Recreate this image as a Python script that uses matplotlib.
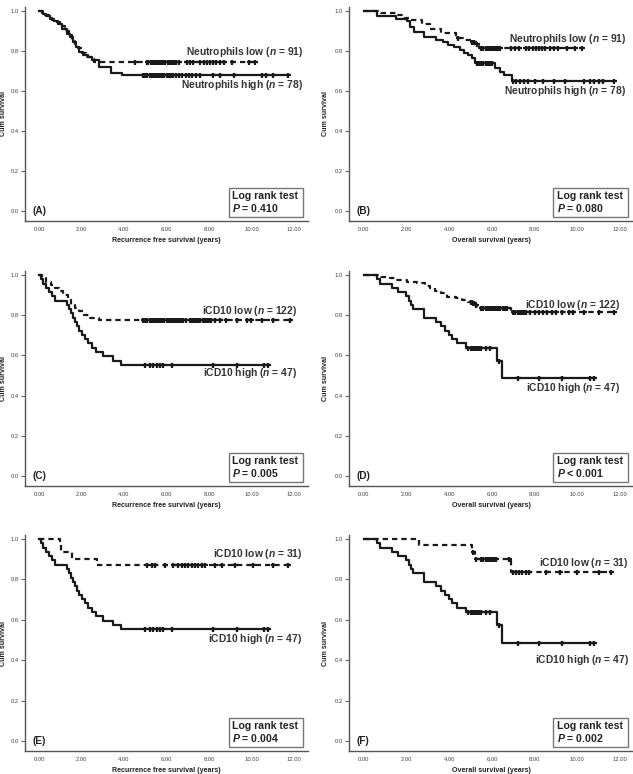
import numpy as np
import matplotlib
matplotlib.use("Agg")
import matplotlib.pyplot as plt
from matplotlib.patches import Rectangle

plt.rcParams['font.family'] = ['Liberation Sans', 'DejaVu Sans']
plt.rcParams['mathtext.fontset'] = 'custom'
plt.rcParams['mathtext.it'] = 'Liberation Sans:bold:italic'
plt.rcParams['mathtext.rm'] = 'Liberation Sans:bold'

# ---------------- data ----------------
# Panel A: RFS, neutrophils
A_low_t = [0, 0.15, 0.3, 0.45, 0.6, 0.8, 1.0, 1.2, 1.4, 1.55, 1.7, 1.85, 2.0, 2.2, 2.45, 2.6]
A_low_s = [1.0, 0.989, 0.978, 0.967, 0.956, 0.945, 0.923, 0.901, 0.879, 0.857, 0.835, 0.813, 0.791, 0.769, 0.758, 0.747]
A_low_c = [4.52, 5.07, 5.15, 5.25, 5.35, 5.45, 5.55, 5.65, 5.75, 5.85, 5.95, 6.05, 6.15, 6.25, 6.35, 6.45, 6.6,
           6.95, 7.1, 7.25, 7.6, 7.75, 7.9, 8.05, 8.2, 8.35, 8.5, 8.7, 9.1, 9.9, 10.16]
A_high_t = [0, 0.2, 0.35, 0.5, 0.7, 0.9, 1.1, 1.3, 1.45, 1.6, 1.75, 1.9, 2.05, 2.3, 2.5, 2.8, 3.4, 3.9]
A_high_s = [1.0, 0.987, 0.974, 0.962, 0.949, 0.936, 0.91, 0.885, 0.872, 0.846, 0.821, 0.795, 0.782, 0.769, 0.756, 0.72, 0.692, 0.679]
A_high_c = [4.9, 5.0, 5.1, 5.2, 5.3, 5.4, 5.5, 5.6, 5.7, 5.8, 5.9, 6.0, 6.1, 6.2, 6.3, 6.45, 6.6, 6.75, 6.9,
            7.05, 7.2, 7.4, 7.6, 8.2, 8.5, 9.2, 10.5, 10.7, 11.0, 11.7]

# Panel B: OS, neutrophils
B_low_t = [0, 0.8, 1.5, 1.9, 2.2, 2.7, 3.1, 3.6, 4.3, 4.7, 5.0, 5.25, 5.4]
B_low_s = [1.0, 0.99, 0.978, 0.967, 0.955, 0.933, 0.911, 0.889, 0.867, 0.856, 0.845, 0.834, 0.815]
B_low_c = [4.4, 5.05, 5.15, 5.3, 5.5, 5.6, 5.7, 5.8, 5.9, 6.0, 6.1, 6.2, 6.3, 6.4, 6.9, 7.1, 7.25, 7.6, 7.75,
           7.9, 8.05, 8.2, 8.35, 8.5, 8.7, 8.9, 9.1, 9.5, 9.9, 10.2]
B_high_t = [0, 0.6, 1.5, 2.0, 2.15, 2.35, 2.8, 3.4, 3.7, 3.95, 4.2, 4.5, 4.7, 4.9, 5.05, 5.2, 6.15, 6.4, 6.55, 6.95]
B_high_s = [1.0, 0.974, 0.961, 0.948, 0.922, 0.896, 0.87, 0.857, 0.844, 0.831, 0.818, 0.805, 0.792, 0.779,
            0.766, 0.74, 0.715, 0.697, 0.68, 0.648]
B_high_c = [5.3, 5.4, 5.5, 5.6, 5.7, 5.8, 5.9, 6.0, 7.0, 7.15, 7.3, 7.5, 7.7, 8.0, 8.4, 8.9, 9.4, 10.3, 10.6,
            10.8, 11.0, 11.2, 11.7]

# iCD10 high (n = 47), shared by C/E (RFS) and D/F (OS)
RFS_high_t = [0, 0.1, 0.2, 0.35, 0.45, 0.6, 0.75, 1.3, 1.4, 1.5, 1.6, 1.7, 1.8, 1.9, 2.0, 2.15, 2.3, 2.5, 2.7, 3.0, 3.5, 3.85]
RFS_high_s = [1.0, 0.979, 0.957, 0.936, 0.915, 0.894, 0.872, 0.851, 0.83, 0.809, 0.787, 0.766, 0.745, 0.723,
              0.702, 0.681, 0.66, 0.638, 0.617, 0.596, 0.574, 0.553]
RFS_high_c = [4.99, 5.22, 5.38, 5.54, 5.69, 5.85, 6.24, 8.2, 9.3, 10.6, 10.79]
OS_high_t = [0, 0.6, 0.75, 1.3, 1.6, 1.95, 2.1, 2.2, 2.3, 2.8, 3.4, 3.6, 3.8, 4.0, 4.15, 4.35, 4.8, 6.25, 6.45]
OS_high_s = [1.0, 0.979, 0.957, 0.936, 0.915, 0.894, 0.872, 0.851, 0.83, 0.787, 0.766, 0.745, 0.723, 0.702,
             0.681, 0.66, 0.638, 0.574, 0.487]
OS_high_c = [4.9, 5.0, 5.1, 5.2, 5.3, 5.4, 5.5, 5.7, 5.9, 6.35, 7.2, 8.2, 9.3, 10.6, 10.8]

# Panel C: RFS, iCD10 low (n = 122)
C_low_t = [0, 0.15, 0.35, 0.55, 0.75, 0.95, 1.15, 1.35, 1.5, 1.7, 1.9, 2.1, 2.4, 2.8]
C_low_s = [1.0, 0.984, 0.967, 0.951, 0.934, 0.918, 0.902, 0.877, 0.852, 0.836, 0.82, 0.803, 0.787, 0.775]
C_low_c = [4.9, 5.0, 5.1, 5.2, 5.3, 5.4, 5.5, 5.6, 5.7, 5.8, 5.9, 6.0, 6.1, 6.2, 6.3, 6.4, 6.5, 6.6, 6.7, 6.8,
           6.9, 7.1, 7.2, 7.3, 7.4, 7.5, 7.6, 7.7, 7.8, 7.9, 8.0, 8.1, 8.3, 8.5, 8.8, 9.3, 9.8, 10.0, 10.5, 11.0, 11.8]

# Panel D: OS, iCD10 low (n = 122)
D_low_t = [0, 0.8, 1.2, 1.5, 2.0, 2.5, 2.85, 3.1, 3.35, 3.6, 3.9, 4.3, 4.6, 4.9, 5.1, 5.2, 5.3, 5.45, 6.9]
D_low_s = [1.0, 0.992, 0.984, 0.975, 0.967, 0.959, 0.943, 0.934, 0.918, 0.91, 0.893, 0.885, 0.877, 0.868,
           0.86, 0.852, 0.843, 0.835, 0.816]
D_low_c = [5.0, 5.05, 5.12, 5.17, 5.25, 5.5, 5.6, 5.7, 5.8, 5.9, 6.0, 6.1, 6.2, 6.3, 6.4, 6.5, 6.6, 6.7,
           7.0, 7.1, 7.2, 7.3, 7.4, 7.5, 7.6, 7.8, 8.0, 8.2, 8.4, 8.6, 8.8, 9.0, 9.3, 9.6, 9.8, 10.3, 11.0, 11.7]

# Panel E: RFS, iCD10 low (n = 31)
E_low_t = [0, 1.0, 1.05, 1.55, 2.75]
E_low_s = [1.0, 0.968, 0.935, 0.903, 0.871]
E_low_c = [5.07, 5.3, 5.46, 5.93, 6.32, 6.56, 6.71, 6.87, 7.03, 7.18, 7.34, 7.5, 7.65, 7.81, 8.28, 8.6,
           9.22, 10.08, 11.0, 11.73]

# Panel F: OS, iCD10 low (n = 31)
F_low_t = [0, 2.6, 5.05, 5.2, 6.9]
F_low_s = [1.0, 0.968, 0.935, 0.903, 0.838]
F_low_c = [5.1, 5.24, 5.5, 5.6, 5.7, 5.8, 5.9, 6.0, 6.1, 6.2, 6.8, 6.97, 7.12, 7.28, 7.43, 7.59, 7.75,
           8.53, 9.2, 10.0, 11.0, 11.6]

panel_letters = ['(A)', '(B)', '(C)', '(D)', '(E)', '(F)']
p_texts = ['$P$ = 0.410', '$P$ = 0.080', '$P$ = 0.005', '$P$ < 0.001', '$P$ = 0.004', '$P$ = 0.002']
low_labels = ['Neutrophils low ($n$ = 91)', 'Neutrophils low ($n$ = 91)', 'iCD10 low ($n$ = 122)',
              'iCD10 low ($n$ = 122)', 'iCD10 low ($n$ = 31)', 'iCD10 low ($n$ = 31)']
high_labels = ['Neutrophils high ($n$ = 78)', 'Neutrophils high ($n$ = 78)', 'iCD10 high ($n$ = 47)',
               'iCD10 high ($n$ = 47)', 'iCD10 high ($n$ = 47)', 'iCD10 high ($n$ = 47)']
x_labels = ['Recurrence free survival (years)', 'Overall survival (years)'] * 3
x_ticks = [0, 2, 4, 6, 8, 10, 12]
x_ticklabels = ['0.00', '2.00', '4.00', '6.00', '8.00', '10.00', '12.00']
y_ticks = [0.0, 0.2, 0.4, 0.6, 0.8, 1.0]
y_ticklabels = ['0.0', '0.2', '0.4', '0.6', '0.8', '1.0']

curves = [
    ((A_low_t, A_low_s, A_low_c), (A_high_t, A_high_s, A_high_c)),
    ((B_low_t, B_low_s, B_low_c), (B_high_t, B_high_s, B_high_c)),
    ((C_low_t, C_low_s, C_low_c), (RFS_high_t, RFS_high_s, RFS_high_c)),
    ((D_low_t, D_low_s, D_low_c), (OS_high_t, OS_high_s, OS_high_c)),
    ((E_low_t, E_low_s, E_low_c), (RFS_high_t, RFS_high_s, RFS_high_c)),
    ((F_low_t, F_low_s, F_low_c), (OS_high_t, OS_high_s, OS_high_c)),
]
# label positions (x, y) in data units
low_pos = [(12.42, 0.795), (12.28, 0.858), (12.13, 0.82), (12.0, 0.85), (12.4, 0.925), (12.4, 0.883)]
high_pos = [(12.42, 0.63), (12.28, 0.60), (12.13, 0.51), (12.0, 0.44), (12.4, 0.503), (12.4, 0.40)]

# ---------------- figure ----------------
W, H = 633, 774
fig = plt.figure(figsize=(W / 100, H / 100), dpi=100)

cols = [(25, 283), (349, 284)]
rows = [(7, 221), (271, 486), (535, 751)]
xlims = [(-0.66, 12.66), (-0.70, 12.61)]
ylabel_x = [-0.062, -0.070]

def step_val(t, s, x):
    i = np.searchsorted(np.asarray(t), x, side='right') - 1
    return np.asarray(s)[i]

def draw_curve(ax, t, s, c, dashed):
    end = max(c)
    tt = list(t) + [end]
    ss = list(s) + [s[-1]]
    ls = (0, (2.4, 1.8)) if dashed else '-'
    ax.step(tt, ss, where='post', color='#1a1a1a', lw=1.6, ls=ls, zorder=3)
    cy = step_val(t, s, np.asarray(c))
    ax.plot(c, cy, ls='none', marker='+', ms=3.6, mew=1.6, color='#1a1a1a', zorder=4)

for k in range(6):
    r, cidx = divmod(k, 2)
    x0, w = cols[cidx]
    yt, yb = rows[r]
    ax = fig.add_axes([x0 / W, (H - yb) / H, w / W, (yb - yt) / H])
    (lt, lsv, lc), (ht, hsv, hc) = curves[k]
    draw_curve(ax, ht, hsv, hc, False)
    draw_curve(ax, lt, lsv, lc, True)
    ax.set_xlim(*xlims[cidx])
    ax.set_ylim(-0.05, 1.02)
    for sp in ['top', 'right']:
        ax.spines[sp].set_visible(False)
    for sp in ['left', 'bottom']:
        ax.spines[sp].set_color('#555555')
        ax.spines[sp].set_linewidth(1.0)
    ax.set_xticks(x_ticks)
    ax.set_xticklabels(x_ticklabels)
    ax.set_yticks(y_ticks)
    ax.set_yticklabels(y_ticklabels)
    ax.tick_params(axis='both', labelsize=4.2, labelcolor='#444444', color='#666666',
                   length=3, width=0.8, pad=1.5)
    ax.tick_params(axis='x', length=0, pad=4.5)
    ax.set_xlabel(x_labels[k], fontsize=5.1, fontweight='bold', color='#222222')
    ax.xaxis.set_label_coords(0.5, -0.075)
    ax.set_ylabel('Cum survival', fontsize=5.1, fontweight='bold', color='#222222')
    ax.yaxis.set_label_coords(ylabel_x[cidx], 0.5)

    ax.text(low_pos[k][0], low_pos[k][1], low_labels[k], ha='right', va='center',
            fontsize=7.4, fontweight='bold', color='#333333')
    ax.text(high_pos[k][0], high_pos[k][1], high_labels[k], ha='right', va='center',
            fontsize=7.4, fontweight='bold', color='#333333')
    ax.text(0.025, 0.0, panel_letters[k], transform=ax.get_yaxis_transform(),
            ha='left', va='center', fontsize=7.2, fontweight='bold', color='#222222')
    # log rank box
    bx0, bx1, by0, by1 = 0.72, 0.983, 0.02, 0.155
    ax.add_patch(Rectangle((bx0, by0), bx1 - bx0, by1 - by0, transform=ax.transAxes,
                           fill=True, facecolor='white', edgecolor='#777777', lw=1.0, zorder=5))
    ax.text(bx0 + 0.012, 0.117, 'Log rank test', transform=ax.transAxes, ha='left', va='center',
            fontsize=7.6, fontweight='bold', color='#222222', zorder=6)
    ax.text(bx0 + 0.012, 0.061, p_texts[k], transform=ax.transAxes, ha='left', va='center',
            fontsize=7.6, fontweight='bold', color='#222222', zorder=6)

fig.savefig('out.png', dpi=100)
